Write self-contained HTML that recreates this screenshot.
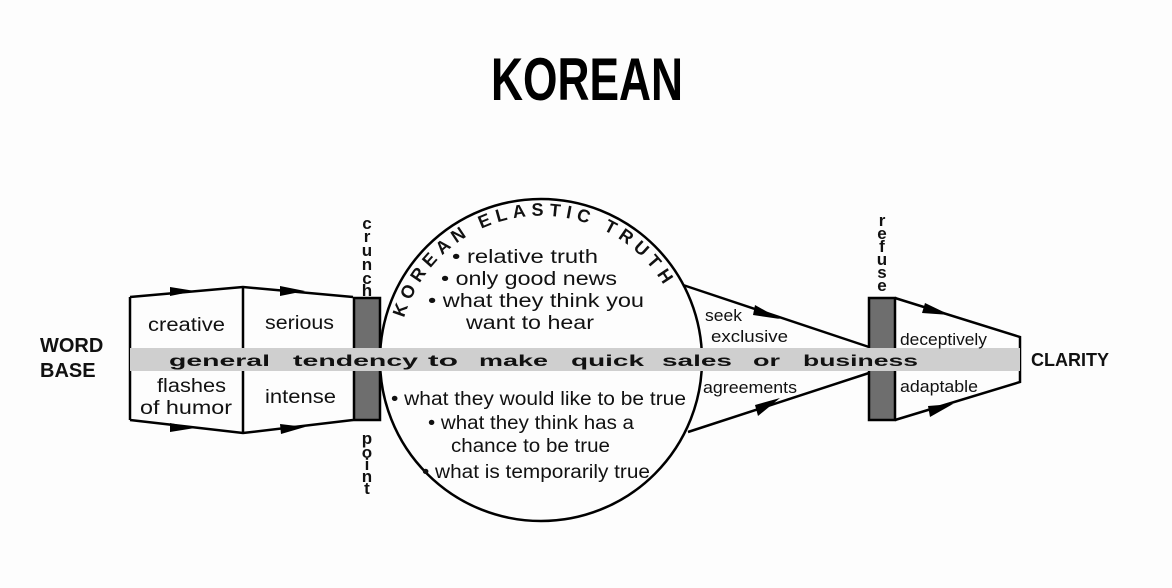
<!DOCTYPE html>
<html><head><meta charset="utf-8"><style>
html,body{margin:0;padding:0;background:#fdfdfd;}
svg{display:block;}
text{font-family:"Liberation Sans",sans-serif;}
</style></head><body>
<svg width="1172" height="588" viewBox="0 0 1172 588" xmlns="http://www.w3.org/2000/svg">
<defs>
<path id="arc" d="M 404,318 A 143,143 0 0 1 674,306"/>
</defs>
<text x="491" y="100" font-size="60" font-weight="bold" textLength="192" lengthAdjust="spacingAndGlyphs">KOREAN</text>

<g stroke="#000" stroke-width="2.5" fill="none">
<path d="M130,297 L243,287 L353,297"/>
<path d="M130,420 L243,433 L353,420"/>
<line x1="130" y1="297" x2="130" y2="420"/>
<line x1="243" y1="287" x2="243" y2="433"/>
</g>
<polygon points="170,287 195,291 170,296" fill="#000"/>
<polygon points="280,286 305,291 280,296" fill="#000"/>
<polygon points="170,423 195,428 170,432" fill="#000"/>
<polygon points="280,424 305,427 281,434" fill="#000"/>

<circle cx="541" cy="360" r="161" fill="#fdfdfd" stroke="#000" stroke-width="2.5"/>

<g stroke="#000" stroke-width="2.5" fill="none">
<line x1="683" y1="285" x2="869" y2="347"/>
<line x1="688" y1="432" x2="869" y2="373"/>
<path d="M895,298 L1020,337 L1020,382 L895,420"/>
</g>
<polygon points="755,305 780,319 753,315" fill="#000"/>
<polygon points="755,405 780,398 758,416" fill="#000"/>
<polygon points="925,303 950,315 922,313" fill="#000"/>
<polygon points="928,406 953,404 930,417" fill="#000"/>

<rect x="354" y="298" width="26" height="122" fill="#6e6e6e" stroke="#000" stroke-width="2.5"/>
<rect x="869" y="298" width="26" height="122" fill="#6e6e6e" stroke="#000" stroke-width="2.5"/>
<rect x="130" y="348" width="890" height="23" fill="#cfcfcf"/>

<g font-size="16" font-weight="bold" fill="#111">
<text x="169" y="366" textLength="101" lengthAdjust="spacingAndGlyphs">general</text>
<text x="293" y="366" textLength="125" lengthAdjust="spacingAndGlyphs">tendency</text>
<text x="428" y="366" textLength="30" lengthAdjust="spacingAndGlyphs">to</text>
<text x="479" y="366" textLength="69" lengthAdjust="spacingAndGlyphs">make</text>
<text x="571" y="366" textLength="73" lengthAdjust="spacingAndGlyphs">quick</text>
<text x="662" y="366" textLength="70" lengthAdjust="spacingAndGlyphs">sales</text>
<text x="753" y="366" textLength="27" lengthAdjust="spacingAndGlyphs">or</text>
<text x="803" y="366" textLength="115" lengthAdjust="spacingAndGlyphs">business</text>
</g>

<g font-size="19" fill="#111">
<text x="148" y="331" textLength="77" lengthAdjust="spacingAndGlyphs">creative</text>
<text x="265" y="329" textLength="69" lengthAdjust="spacingAndGlyphs">serious</text>
<text x="157" y="392" textLength="69" lengthAdjust="spacingAndGlyphs">flashes</text>
<text x="140" y="414" textLength="92" lengthAdjust="spacingAndGlyphs">of humor</text>
<text x="265" y="403" textLength="71" lengthAdjust="spacingAndGlyphs">intense</text>
<text x="452" y="263" textLength="146" lengthAdjust="spacingAndGlyphs">• relative truth</text>
<text x="441" y="285" textLength="176" lengthAdjust="spacingAndGlyphs">• only good news</text>
<text x="428" y="307" textLength="216" lengthAdjust="spacingAndGlyphs">• what they think you</text>
<text x="466" y="329" textLength="128" lengthAdjust="spacingAndGlyphs">want to hear</text>
<text x="391" y="405" textLength="295" lengthAdjust="spacingAndGlyphs">• what they would like to be true</text>
<text x="428" y="429" textLength="206" lengthAdjust="spacingAndGlyphs">• what they think has a</text>
<text x="451" y="452" textLength="159" lengthAdjust="spacingAndGlyphs">chance to be true</text>
<text x="422" y="478" textLength="228" lengthAdjust="spacingAndGlyphs">• what is temporarily true</text>
<text x="705" y="321" font-size="17" textLength="37" lengthAdjust="spacingAndGlyphs">seek</text>
<text x="711" y="342" font-size="17" textLength="77" lengthAdjust="spacingAndGlyphs">exclusive</text>
<text x="703" y="393" font-size="17" textLength="94" lengthAdjust="spacingAndGlyphs">agreements</text>
<text x="900" y="345" font-size="17" textLength="87" lengthAdjust="spacingAndGlyphs">deceptively</text>
<text x="900" y="392" font-size="17" textLength="78" lengthAdjust="spacingAndGlyphs">adaptable</text>
</g>
<text font-size="18" font-weight="bold" fill="#111"><textPath href="#arc" textLength="330" lengthAdjust="spacing">KOREAN ELASTIC TRUTH</textPath></text>

<g font-size="20" font-weight="bold" fill="#111">
<text x="40" y="352">WORD</text>
<text x="40" y="377">BASE</text>
</g>
<text x="1031" y="366" font-size="18" font-weight="bold" fill="#111">CLARITY</text>

<g font-size="17" font-weight="bold" text-anchor="middle" fill="#111">
<text x="367" y="229">c</text><text x="367" y="242">r</text><text x="367" y="256">u</text><text x="367" y="270">n</text><text x="367" y="284">c</text><text x="367" y="296">h</text>
<text x="367" y="444">p</text><text x="367" y="458">o</text><text x="367" y="470">i</text><text x="367" y="482">n</text><text x="367" y="494">t</text>
<text x="882" y="226">r</text><text x="882" y="239">e</text><text x="882" y="252">f</text><text x="882" y="265">u</text><text x="882" y="278">s</text><text x="882" y="291">e</text>
</g>
</svg>
</body></html>
